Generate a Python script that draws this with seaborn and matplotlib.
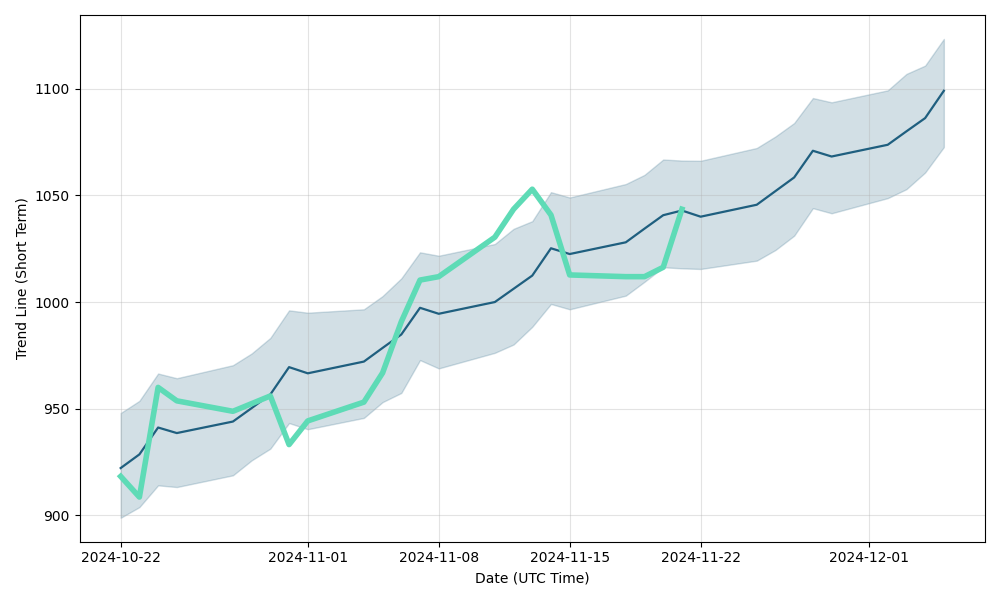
import numpy as np
import pandas as pd
import matplotlib
matplotlib.use("Agg")
import matplotlib.pyplot as plt
import seaborn as sns

# business days covered by the trend
dates = ["2024-10-22", "2024-10-23", "2024-10-24", "2024-10-25", "2024-10-28",
         "2024-10-29", "2024-10-30", "2024-10-31", "2024-11-01", "2024-11-04",
         "2024-11-05", "2024-11-06", "2024-11-07", "2024-11-08", "2024-11-11",
         "2024-11-12", "2024-11-13", "2024-11-14", "2024-11-15", "2024-11-18",
         "2024-11-19", "2024-11-20", "2024-11-21", "2024-11-22", "2024-11-25",
         "2024-11-26", "2024-11-27", "2024-11-28", "2024-11-29", "2024-12-02",
         "2024-12-03", "2024-12-04", "2024-12-05"]

trend = [922.2, 928.6, 941.2, 938.6, 944.0, 950.3, 956.7, 969.5, 966.6, 972.1,
         978.5, 984.8, 997.3, 994.5, 1000.0, 1006.2, 1012.4, 1025.2, 1022.5, 1028.0,
         1034.4, 1040.7, 1042.9, 1040.0, 1045.6, 1052.0, 1058.4, 1070.9, 1068.2, 1073.7,
         1080.0, 1086.2, 1099.0]

upper = [948.0, 953.7, 966.5, 964.3, 970.4, 975.9, 983.2, 996.1, 995.0, 996.6,
         1002.8, 1011.1, 1023.3, 1021.7, 1027.2, 1034.3, 1037.9, 1051.5, 1049.0, 1055.3,
         1059.6, 1066.8, 1066.3, 1066.2, 1072.2, 1077.6, 1083.9, 1095.6, 1093.6, 1099.2,
         1106.9, 1110.8, 1123.3]

lower = [898.9, 903.9, 914.1, 913.3, 918.8, 925.8, 931.3, 943.3, 940.4, 945.7,
         953.1, 957.4, 972.8, 968.9, 976.2, 980.1, 988.4, 999.1, 996.6, 1003.0,
         1009.5, 1016.3, 1015.8, 1015.5, 1019.4, 1024.4, 1031.1, 1044.0, 1041.6, 1048.7,
         1052.9, 1060.7, 1072.6]

# actual price, up to 2024-11-21
price = [918.3, 908.6, 960.0, 953.7, 948.8, 952.4, 956.0, 933.2, 944.3, 953.1,
         966.8, 990.8, 1010.3, 1011.9, 1030.4, 1043.5, 1052.9, 1040.8, 1012.7, 1011.9,
         1011.9, 1016.3, 1043.5]

df = pd.DataFrame({"date": pd.to_datetime(dates), "trend": trend,
                   "upper": upper, "lower": lower})
dp = pd.DataFrame({"date": pd.to_datetime(dates[:len(price)]), "price": price})

trend_color = "#1f5f7f"
price_color = "#5edbb6"

fig, ax = plt.subplots(figsize=(10, 6), dpi=100)

ax.fill_between(df["date"], df["lower"], df["upper"], color=trend_color, alpha=0.2, lw=1)
sns.lineplot(data=df, x="date", y="trend", ax=ax, color=trend_color, lw=1.6)
sns.lineplot(data=dp, x="date", y="price", ax=ax, color=price_color, lw=4)

ax.grid(True, alpha=0.35)
ax.set_xlabel("Date (UTC Time)")
ax.set_ylabel("Trend Line (Short Term)")

plt.tight_layout()
plt.savefig("out.png")
